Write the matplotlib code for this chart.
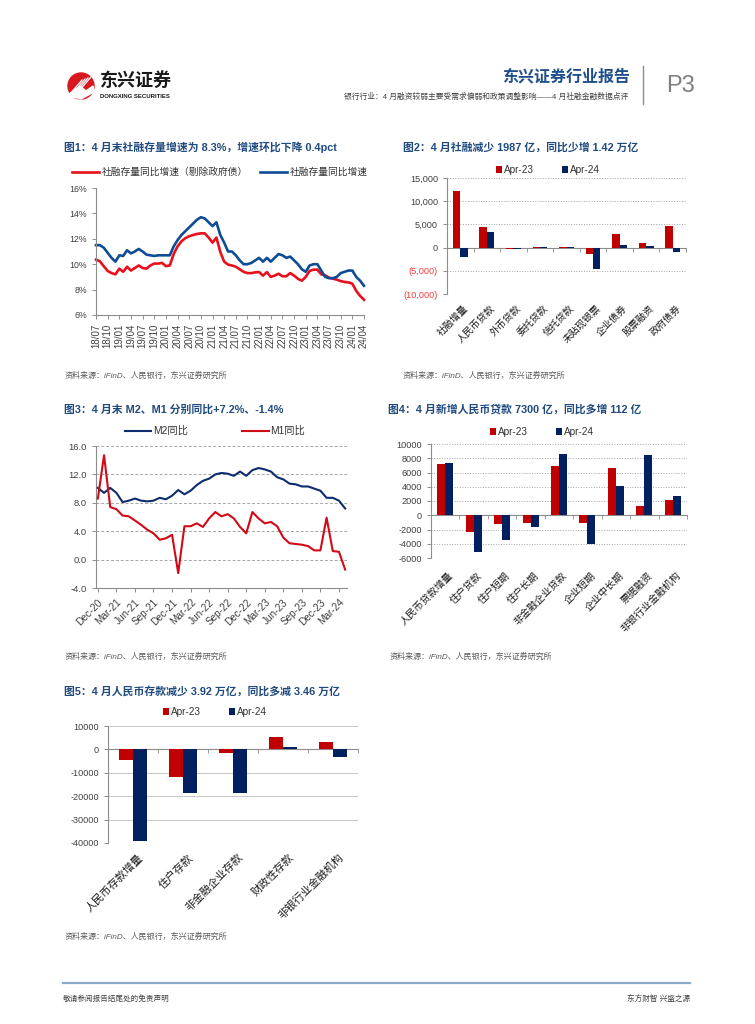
import numpy as np
import pandas as pd
import matplotlib
matplotlib.use("Agg")
import matplotlib.pyplot as plt
import matplotlib.transforms as mtransforms
from matplotlib import font_manager
from matplotlib.patches import Circle, Polygon

plt.rcParams["font.family"] = ["Liberation Sans", "Noto Sans CJK SC", "DejaVu Sans"]
plt.rcParams["axes.unicode_minus"] = False

_names = {f.name for f in font_manager.fontManager.ttflist}
NARROW = "Liberation Sans Narrow" if "Liberation Sans Narrow" in _names else "Liberation Sans"

W, H = 755, 1024

# ---------- 数据 ----------
# 图1 社融存量同比（2018/07 - 2024/04）
sf_months = pd.period_range("2018-07", "2024-04", freq="M").strftime("%y/%m").tolist()
sf_total = [11.5, 11.5, 11.3, 10.9, 10.5, 10.2, 10.7, 10.65, 11.1, 10.85,
            11.0, 11.2, 11.0, 10.75, 10.7, 10.65, 10.7, 10.7, 10.7, 10.7,
            11.4, 11.9, 12.3, 12.6, 12.9, 13.2, 13.5, 13.7, 13.6, 13.3,
            13.0, 13.3, 12.3, 11.7, 11.0, 11.0, 10.7, 10.3, 10.0, 10.0,
            10.1, 10.3, 10.5, 10.2, 10.5, 10.2, 10.5, 10.8, 10.7, 10.5,
            10.6, 10.3, 10.0, 9.6, 9.4, 9.9, 10.0, 10.0, 9.5, 9.0,
            8.9, 8.9, 9.0, 9.3, 9.4, 9.5, 9.5, 9.0, 8.7, 8.3]
sf_ex_gov = [10.36, 10.23, 9.84, 9.47, 9.3, 9.2, 9.65, 9.4, 9.8, 9.5,
             9.7, 9.9, 9.7, 9.65, 9.9, 10.05, 10.05, 10.1, 9.85, 9.9,
             10.8, 11.4, 11.8, 12.05, 12.2, 12.3, 12.38, 12.43, 12.43, 12.1,
             11.7, 12.1, 10.97, 10.2, 9.97, 9.9, 9.8, 9.6, 9.4, 9.3,
             9.3, 9.36, 9.38, 9.1, 9.38, 9.0, 9.1, 9.25, 9.05, 9.05,
             9.3, 9.1, 8.85, 8.7, 9.0, 9.47, 9.57, 9.57, 9.2, 9.12,
             8.94, 8.86, 8.78, 8.67, 8.6, 8.57, 8.46, 7.9, 7.5, 7.2]

# 图2 社融分项（亿元）
sf_items = ["社融增量", "人民币贷款", "外币贷款", "委托贷款", "信托贷款",
            "未贴现银票", "企业债券", "股票融资", "政府债券"]
sf_apr23 = [12200, 4431, -290, 60, 50, -1300, 2950, 1012, 4548]
sf_apr24 = [-1987, 3308, -350, 40, 60, -4550, 566, 250, -980]

# 图3 M2、M1 同比（2020/12 - 2024/04）
m_months = pd.period_range("2020-12", "2024-04", freq="M").strftime("%b-%y").tolist()
m2_yoy = [10.1, 9.4, 10.1, 9.4, 8.1, 8.3, 8.6, 8.3, 8.2, 8.3, 8.7, 8.5, 9.0, 9.8,
          9.2, 9.7, 10.5, 11.1, 11.4, 12.0, 12.2, 12.1, 11.8, 12.4, 11.8, 12.6,
          12.9, 12.7, 12.4, 11.6, 11.3, 10.7, 10.6, 10.3, 10.3, 10.0, 9.7, 8.7,
          8.7, 8.3, 7.2]
m1_yoy = [8.6, 14.7, 7.4, 7.1, 6.2, 6.1, 5.5, 4.9, 4.2, 3.7, 2.8, 3.0, 3.5, -1.9,
          4.7, 4.7, 5.1, 4.6, 5.8, 6.7, 6.1, 6.4, 5.8, 4.6, 3.7, 6.7, 5.8, 5.1,
          5.3, 4.7, 3.1, 2.3, 2.2, 2.1, 1.9, 1.3, 1.3, 5.9, 1.2, 1.1, -1.4]

# 图4 人民币贷款分项（亿元）
loan_items = ["人民币贷款增量", "住户贷款", "住户短期", "住户长期", "非金融企业贷款",
              "企业短期", "企业中长期", "票据融资", "非银行业金融机构"]
loan_apr23 = [7188, -2400, -1250, -1100, 6850, -1050, 6670, 1300, 2150]
loan_apr24 = [7300, -5166, -3491, -1675, 8600, -4100, 4100, 8391, 2650]

# 图5 人民币存款分项（亿元）
dep_items = ["人民币存款增量", "住户存款", "非金融企业存款", "财政性存款", "非银行业金融机构"]
dep_apr23 = [-4600, -11950, -1400, 5100, 2950]
dep_apr24 = [-39200, -18500, -18750, 1050, -3250]

# ---------- 样式 ----------
TITLE_C = "#1F4A7E"
RED_L, BLUE_L = "#E8101C", "#0E4C96"
RED_B, NAVY_B = "#C00000", "#002060"
GRID_C = "#A6A6A6"
AX_C = "#8C8C8C"
TXT_C = "#404040"
SRC = "资料来源：iFinD、人民银行，东兴证券研究所"

fig = plt.figure(figsize=(W / 100, H / 100), dpi=100)


def ax_px(l, t, r, b):
    return fig.add_axes([l / W, 1 - b / H, (r - l) / W, (b - t) / H])


def fx(x):
    return x / W


def fy(y):
    return 1 - y / H


# 整页底图（页眉页脚）
page = fig.add_axes([0, 0, 1, 1])
page.set_xlim(0, W)
page.set_ylim(H, 0)
page.axis("off")

page.add_patch(Circle((81, 86), 13, color="#D7191F"))
for k in range(4):
    page.plot([70 + k * 3, 82 + k * 3], [94 - k * 1, 80 - k * 1], color="white", lw=0.9)
page.add_patch(Polygon([[69, 94], [80, 86], [86, 91], [93, 86], [94, 92], [81, 99], [70, 96]],
                       closed=True, color="white"))
page.text(100, 81, "东兴证券", fontsize=13, fontweight="bold", color="#1A1A1A", va="center")
page.text(100, 96, "DONGXING SECURITIES", fontsize=4.3, fontweight="bold", color="#1A1A1A", va="center")
page.text(630, 77, "东兴证券行业报告", fontsize=11.5, fontweight="bold", color="#1F4E8C",
          ha="right", va="center")
page.text(628, 97, "银行行业：4 月融资较弱主要受需求偏弱和政策调整影响——4 月社融金融数据点评",
          fontsize=5.6, color="#404040", ha="right", va="center")
page.plot([643, 643], [66, 104], color="#8C8C8C", lw=1)
page.text(666, 86, "P3", fontsize=17, color="#7F7F7F", ha="left", va="center", family=NARROW)

page.plot([63, 690], [983, 983], color="#8EAACB", lw=1.6)
page.text(63, 999, "敬请参阅报告结尾处的免责声明", fontsize=5.5, color="#404040", va="center")
page.text(690, 999, "东方财智 兴盛之源", fontsize=5.5, color="#404040", va="center", ha="right")

# 标题与来源
titles = [(64, 147, "图1：4 月末社融存量增速为 8.3%，增速环比下降 0.4pct"),
          (403, 147, "图2：4 月社融减少 1987 亿，同比少增 1.42 万亿"),
          (64, 409, "图3：4 月末 M2、M1 分别同比+7.2%、-1.4%"),
          (388, 409, "图4：4 月新增人民币贷款 7300 亿，同比多增 112 亿"),
          (64, 691, "图5：4 月人民币存款减少 3.92 万亿，同比多减 3.46 万亿")]
for x, y, t in titles:
    page.text(x, y, t, fontsize=7.8, fontweight="bold", color=TITLE_C, va="center")
for x, y in [(65, 376), (403, 376), (65, 657), (390, 657), (65, 937)]:
    page.text(x, y, SRC, fontsize=5.8, color="#595959", va="center", style="italic")


def base_spines(ax):
    for s in ["top", "right"]:
        ax.spines[s].set_visible(False)
    for s in ["left", "bottom"]:
        ax.spines[s].set_color(AX_C)
        ax.spines[s].set_linewidth(0.8)
    ax.tick_params(colors=AX_C, labelcolor=TXT_C, length=3, width=0.7)
    ax.set_facecolor("none")


# ---------- 图1 ----------
ax1 = ax_px(96, 188, 364, 315)
x1 = np.arange(len(sf_total))
ax1.plot(x1, sf_ex_gov, color=RED_L, lw=1.9, label="社融存量同比增速（剔除政府债）", clip_on=False)
ax1.plot(x1, sf_total, color=BLUE_L, lw=1.9, label="社融存量同比增速", clip_on=False)
ax1.set_xlim(0, len(sf_total) - 1)
ax1.set_ylim(6, 16)
ax1.set_yticks(range(6, 17, 2))
ax1.set_yticklabels([f"{v}%" for v in range(6, 17, 2)], fontsize=6.3)
ax1.set_xticks(x1[::3])
ax1.set_xticklabels(sf_months[::3], rotation=90, fontsize=7, family=NARROW)
base_spines(ax1)
fig.legend(*ax1.get_legend_handles_labels(), loc="center", bbox_to_anchor=(fx(220), fy(172)),
           ncol=2, frameon=False, fontsize=7, handlelength=2.7, handletextpad=0.3,
           columnspacing=1.3, labelcolor="#333333")


def bar_chart(ax, items, a23, a24, ylim, step, fmt, lab_off, lab_fs, width=0.28):
    xs = np.arange(len(items))
    ax.bar(xs - width / 2, a23, width, color=RED_B, label="Apr-23", zorder=3)
    ax.bar(xs + width / 2, a24, width, color=NAVY_B, label="Apr-24", zorder=3)
    ax.set_xlim(-0.5, len(items) - 0.5)
    ax.set_ylim(*ylim)
    ticks = np.arange(ylim[0], ylim[1] + 1, step)
    ax.set_yticks(ticks)
    ax.set_yticklabels([fmt(v) for v in ticks])
    base_spines(ax)
    ax.spines["bottom"].set_position(("data", 0))
    ax.set_xticks(xs)
    ax.set_xticks(np.arange(-0.5, len(items)), minor=True)
    ax.tick_params(axis="x", which="major", length=0, labelbottom=False)
    ax.tick_params(axis="x", which="minor", length=3, color=AX_C)
    trans = mtransforms.blended_transform_factory(ax.transData, ax.transAxes) + \
        mtransforms.ScaledTranslation(0, -lab_off / 100, fig.dpi_scale_trans)
    for i, name in enumerate(items):
        ax.text(i + 0.1, 0, name, transform=trans, rotation=45, ha="right", va="top",
                rotation_mode="anchor", fontsize=lab_fs, color="#1A1A1A")
    return ax


def leg(ax, cx, cy):
    fig.legend(*ax.get_legend_handles_labels(), loc="center", bbox_to_anchor=(fx(cx), fy(cy)),
               ncol=2, frameon=False, fontsize=7.2, handlelength=0.6, handleheight=0.6,
               handletextpad=0.2, columnspacing=2.8, labelcolor="#333333")


# ---------- 图2 ----------
ax2 = ax_px(447, 178, 686, 294)


def paren_fmt(v):
    return f"({abs(v):,.0f})" if v < 0 else f"{v:,.0f}"


bar_chart(ax2, sf_items, sf_apr23, sf_apr24, (-10000, 15000), 5000, paren_fmt, 9, 7)
ax2.grid(axis="y", color=GRID_C, ls=":", lw=0.7, zorder=0)
for lbl, v in zip(ax2.get_yticklabels(), ax2.get_yticks()):
    lbl.set_fontsize(6.6)
    if v < 0:
        lbl.set_color("#F03C3C")
leg(ax2, 548, 170)

# ---------- 图3 ----------
ax3 = ax_px(96, 446, 347, 588)
x3 = np.arange(len(m2_yoy))
ax3.plot(x3, m2_yoy, color="#0C2C6E", lw=1.5, label="M2同比", zorder=3)
ax3.plot(x3, m1_yoy, color="#D00A16", lw=1.5, label="M1同比", zorder=3)
ax3.set_xlim(-0.3, len(m2_yoy) - 0.7)
ax3.set_ylim(-4, 16)
ax3.set_yticks(range(-4, 17, 4))
ax3.set_yticklabels([f"{v:.1f}" for v in range(-4, 17, 4)], fontsize=6.8)
ax3.grid(axis="y", color=GRID_C, ls=(0, (3, 2)), lw=0.7)
base_spines(ax3)
ax3.set_xticks(x3[::3])
ax3.set_xticklabels(m_months[::3], rotation=45, ha="right", rotation_mode="anchor", fontsize=7.2)
fig.legend(*ax3.get_legend_handles_labels(), loc="center", bbox_to_anchor=(fx(215), fy(431)),
           ncol=2, frameon=False, fontsize=7.4, handlelength=2.6, handletextpad=0.2,
           columnspacing=5.2, labelcolor="#333333")

# ---------- 图4 ----------
ax4 = ax_px(431, 444, 687, 558)
bar_chart(ax4, loan_items, loan_apr23, loan_apr24, (-6000, 10000), 2000, lambda v: f"{v:.0f}", 12, 7.2)
ax4.grid(axis="y", color=GRID_C, ls=":", lw=0.7, zorder=0)
for lbl in ax4.get_yticklabels():
    lbl.set_fontsize(6.6)
leg(ax4, 542, 432)

# ---------- 图5 ----------
ax5 = ax_px(108, 726, 358, 843)
bar_chart(ax5, dep_items, dep_apr23, dep_apr24, (-40000, 10000), 10000, lambda v: f"{v:.0f}", 9, 7.8)
ax5.grid(axis="y", color="#BFBFBF", ls="-", lw=0.6, zorder=0)
for lbl in ax5.get_yticklabels():
    lbl.set_fontsize(6.6)
leg(ax5, 215, 712)

fig.savefig("out.png", dpi=100)
